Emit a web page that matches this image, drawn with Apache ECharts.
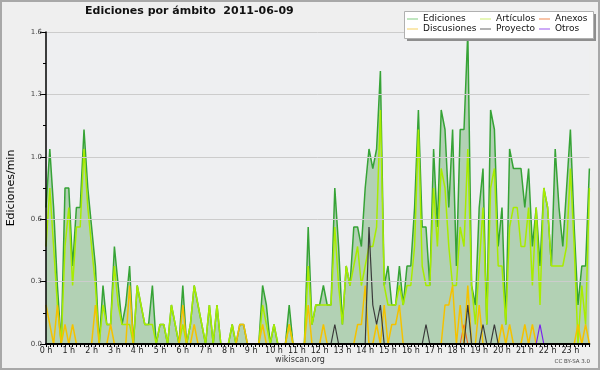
<!DOCTYPE html>
<html><head><meta charset="utf-8">
<script src="https://cdn.jsdelivr.net/npm/echarts@6/dist/echarts.min.js"></script>
<style>html,body{margin:0;padding:0;background:#efefef}#c{width:600px;height:370px}</style>
</head><body><div id="c"></div>
<script>
// 10-minute buckets, 0:00 .. 23:50
const hourLabels = ['0 h','1 h','2 h','3 h','4 h','5 h','6 h','7 h','8 h','9 h','10 h','11 h',
  '12 h','13 h','14 h','15 h','16 h','17 h','18 h','19 h','20 h','21 h','22 h','23 h'];
const times = [];
for (let h = 0; h < 24; h++) for (let m = 0; m < 60; m += 10) times.push(h + ':' + (m < 10 ? '0' : '') + m);

const yTicks = [0, 0.32, 0.64, 0.96, 1.28, 1.6];

const ediciones = [
  0.7,1.0,0.7,0.3,0.0,0.8,0.8,0.4,0.7,0.7,1.1,0.8,
  0.6,0.4,0.0,0.3,0.1,0.1,0.5,0.3,0.1,0.2,0.4,0.0,
  0.3,0.2,0.1,0.1,0.3,0.0,0.1,0.1,0.0,0.2,0.1,0.0,
  0.3,0.0,0.1,0.3,0.2,0.1,0.0,0.2,0.0,0.2,0.0,0.0,
  0.0,0.1,0.0,0.1,0.1,0.0,0.0,0.0,0.0,0.3,0.2,0.0,
  0.1,0.0,0.0,0.0,0.2,0.0,0.0,0.0,0.0,0.6,0.1,0.2,
  0.2,0.3,0.2,0.2,0.8,0.5,0.1,0.4,0.3,0.6,0.6,0.5,
  0.8,1.0,0.9,1.0,1.4,0.3,0.4,0.2,0.2,0.4,0.2,0.4,
  0.4,0.7,1.2,0.6,0.6,0.3,1.0,0.6,1.2,1.1,0.7,1.1,
  0.4,1.1,1.1,1.6,0.3,0.2,0.7,0.9,0.1,1.2,1.1,0.5,
  0.7,0.1,1.0,0.9,0.9,0.9,0.7,0.9,0.5,0.7,0.4,0.8,
  0.7,0.4,1.0,0.7,0.5,0.8,1.1,0.6,0.2,0.4,0.4,0.9
];
const articulos = [
  0.5,0.8,0.5,0.2,0.0,0.5,0.7,0.3,0.6,0.6,1.0,0.7,
  0.5,0.3,0.0,0.2,0.1,0.1,0.4,0.2,0.1,0.1,0.1,0.0,
  0.3,0.2,0.1,0.1,0.1,0.0,0.1,0.1,0.0,0.2,0.1,0.0,
  0.1,0.0,0.1,0.3,0.2,0.1,0.0,0.2,0.0,0.2,0.0,0.0,
  0.0,0.1,0.0,0.0,0.0,0.0,0.0,0.0,0.0,0.2,0.1,0.0,
  0.1,0.0,0.0,0.0,0.1,0.0,0.0,0.0,0.0,0.4,0.1,0.2,
  0.2,0.2,0.2,0.2,0.6,0.3,0.1,0.4,0.3,0.4,0.5,0.3,
  0.4,0.5,0.5,0.6,1.2,0.3,0.2,0.2,0.2,0.3,0.2,0.3,
  0.3,0.5,1.1,0.4,0.3,0.3,0.8,0.5,0.9,0.8,0.5,0.3,
  0.3,0.6,0.5,1.0,0.3,0.1,0.4,0.7,0.1,0.8,0.9,0.4,
  0.4,0.1,0.6,0.7,0.7,0.5,0.5,0.7,0.3,0.7,0.2,0.8,
  0.7,0.4,0.4,0.4,0.4,0.5,0.9,0.5,0.0,0.3,0.1,0.8
];
const anexos = [
  0,0,0,0,0,0,0,0,0,0,0,0,
  0,0,0,0,0,0,0,0,0,0,0,0,
  0,0,0,0,0,0,0,0,0,0,0,0,
  0,0,0,0,0,0,0,0,0,0,0,0,
  0,0,0,0,0,0,0,0,0,0,0,0,
  0,0,0,0,0,0,0,0,0,0,0,0,
  0,0,0,0,0,0,0,0,0,0,0,0,
  0,0,0,0,0,0,0,0,0,0,0,0,
  0,0,0,0,0,0,0,0,0,0,0,0,
  0,0,0.1,0,0,0,0,0,0,0,0,0,
  0,0,0,0,0,0,0,0,0,0,0,0,
  0,0,0,0,0,0,0,0,0,0,0,0
];
const discusiones = [
  0.2,0.1,0,0.2,0,0.1,0,0.1,0,0,0,0,
  0,0.2,0,0,0,0.1,0,0,0,0,0.3,0,
  0,0,0,0,0,0,0,0,0,0,0,0,
  0.2,0,0,0.1,0,0,0,0,0,0,0,0,
  0,0,0,0.1,0.1,0,0,0,0,0.1,0,0,
  0,0,0,0,0.1,0,0,0,0,0.2,0,0,
  0,0.1,0,0,0,0,0,0,0,0,0.1,0.1,
  0.3,0,0,0.1,0,0.2,0,0.1,0.1,0.2,0,0,
  0,0,0,0,0,0,0,0,0,0.2,0.2,0.3,
  0,0.2,0,0.3,0,0,0.2,0,0,0,0,0,
  0.1,0,0.1,0,0,0,0.1,0,0.1,0,0,0,
  0,0,0,0,0,0,0,0,0.1,0,0.1,0
];
const proyecto = [
  0,0,0,0,0,0,0,0,0,0,0,0,
  0,0,0,0,0,0,0,0,0,0,0,0,
  0,0,0,0,0,0,0,0,0,0,0,0,
  0,0,0,0,0,0,0,0,0,0,0,0,
  0,0,0,0,0,0,0,0,0,0,0,0,
  0,0,0,0,0,0,0,0,0,0,0,0,
  0,0,0,0,0.1,0,0,0,0,0,0,0,
  0,0.6,0.2,0.1,0.2,0,0,0,0,0,0,0,
  0,0,0,0,0.1,0,0,0,0,0,0,0,
  0,0,0,0.2,0,0,0,0.1,0,0,0.1,0,
  0,0,0,0,0,0,0,0,0,0,0,0,
  0,0,0,0,0,0,0,0,0,0,0,0
];
const otros = [
  0,0,0,0,0,0,0,0,0,0,0,0,
  0,0,0,0,0,0,0,0,0,0,0,0,
  0,0,0,0,0,0,0,0,0,0,0,0,
  0,0,0,0,0,0,0,0,0,0,0,0,
  0,0,0,0,0,0,0,0,0,0,0,0,
  0,0,0,0,0,0,0,0,0,0,0,0,
  0,0,0,0,0,0,0,0,0,0,0,0,
  0,0,0,0,0,0,0,0,0,0,0,0,
  0,0,0,0,0,0,0,0,0,0,0,0,
  0,0,0,0,0,0,0,0,0,0,0,0,
  0,0,0,0,0,0,0,0,0,0,0.1,0,
  0,0,0,0,0,0,0,0,0,0,0,0
];

const F = 'DejaVu Sans';
const chart = echarts.init(document.getElementById('c'), null, {renderer: 'canvas'});

function lineSeries(name, data, color, width, legendColor) {
  return {
    name: name, type: 'line', data: data, symbol: 'none', showSymbol: false,
    lineStyle: {color: color, width: width},
    itemStyle: {color: legendColor},
    emphasis: {disabled: true}, silent: true
  };
}
const legendBase = {
  orient: 'vertical', top: 14, padding: 0, itemGap: 0, itemWidth: 11, itemHeight: 1,
  icon: 'rect', selectedMode: false, z: 110,
  textStyle: {fontFamily: F, fontSize: 9, color: '#111', lineHeight: 10}
};
const series = [
  Object.assign(lineSeries('Ediciones', ediciones, '#36a336', 1.5, '#80cc80'),
    {areaStyle: {color: 'rgba(100,170,100,0.62)'}}),
  lineSeries('Artículos', articulos, '#a8ec00', 1.5, '#cdee70'),
  lineSeries('Anexos', anexos, '#f07028', 1.2, '#f08850'),
  lineSeries('Discusiones', discusiones, '#f4c200', 1.5, '#f4d060'),
  lineSeries('Proyecto', proyecto, '#3a3a3a', 1.2, '#666666'),
  lineSeries('Otros', otros, '#7a22ee', 1.2, '#9a55ee')
];

chart.setOption({
  animation: false,
  backgroundColor: '#efefef',
  title: {
    text: 'Ediciones por ámbito  2011-06-09', left: 85, top: 6, padding: 0,
    textStyle: {fontFamily: F, fontSize: 11, fontWeight: 'bold', color: '#111'}
  },
  legend: [
    Object.assign({}, legendBase, {left: 407, data: ['Ediciones', 'Discusiones']}),
    Object.assign({}, legendBase, {left: 480, data: ['Artículos', 'Proyecto']}),
    Object.assign({}, legendBase, {left: 539, data: ['Anexos', 'Otros']})
  ],
  grid: {left: 46, right: 10.6, top: 32, bottom: 26, show: true, outerBoundsMode: 'none',
    backgroundColor: '#eeeff1', borderWidth: 0, containLabel: false},
  xAxis: {
    type: 'category', data: times, boundaryGap: false, z: 10,
    axisLine: {show: true, lineStyle: {color: '#000', width: 2}},
    axisTick: {show: true, interval: 0, length: 3, lineStyle: {color: '#000', width: 1}},
    axisLabel: {
      interval: function (i) { return i % 6 === 0; },
      formatter: function (v) { return hourLabels[parseInt(v, 10)]; },
      fontFamily: F, fontSize: 8, color: '#222', margin: 3
    },
    splitLine: {show: false}
  },
  yAxis: {
    type: 'value', min: 0, max: 1.6, interval: 0.32, z: 10,
    name: 'Ediciones/min', nameLocation: 'middle', nameGap: 29,
    nameTextStyle: {fontFamily: F, fontSize: 11, color: '#000'},
    axisLine: {show: true, lineStyle: {color: '#000', width: 1.5}},
    axisTick: {show: true, length: 6, lineStyle: {color: '#000'}},
    minorTick: {show: true, splitNumber: 2, length: 3, lineStyle: {color: '#000'}},
    axisLabel: {
      formatter: function (v) { return (Math.round(v * 10) / 10).toFixed(1); },
      fontFamily: F, fontSize: 7, color: '#444', margin: 4
    },
    splitLine: {show: true, lineStyle: {color: '#cccccc', width: 1}},
    minorSplitLine: {show: false}
  },
  series: series,
  graphic: [
    {type: 'rect', z: 100, shape: {x: 407, y: 14, width: 189, height: 27}, style: {fill: '#8e8e8e'}},
    {type: 'rect', z: 101, shape: {x: 404.5, y: 11.5, width: 189, height: 27}, style: {fill: '#ffffff', stroke: '#b0b0b0', lineWidth: 1}},
    {type: 'text', z: 100, left: 'center', top: 356, style: {text: 'wikiscan.org', font: '8px "DejaVu Sans"', fill: '#333'}},
    {type: 'text', z: 100, right: 10, top: 359, style: {text: 'CC BY-SA 3.0', font: '5.5px "DejaVu Sans"', fill: '#444'}},
    {type: 'rect', z: 120, shape: {x: 1, y: 1, width: 598, height: 368}, style: {fill: 'none', stroke: '#a8a8a8', lineWidth: 2}}
  ]
});
</script></body></html>
